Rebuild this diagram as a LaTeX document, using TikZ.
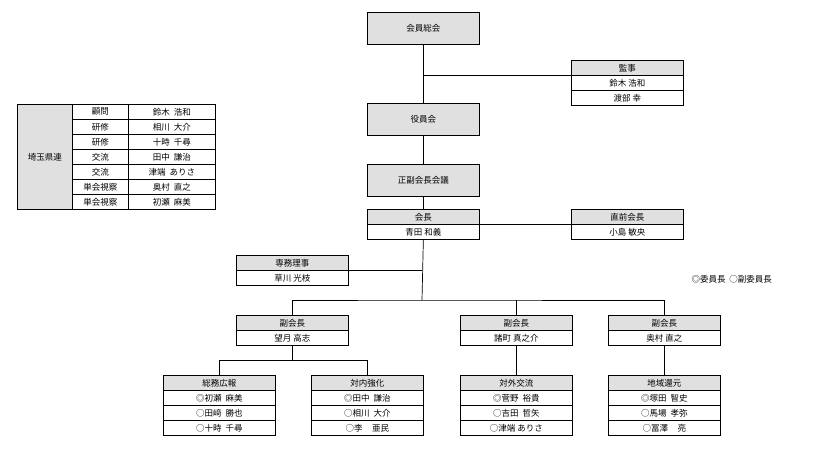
\documentclass[tikz,border=0pt]{standalone}
\usepackage{fontspec}
\setmainfont{Noto Sans CJK JP}
\begin{document}
\begin{tikzpicture}[x=1pt,y=-1pt,
  cell/.style={draw,line width=0.7pt,minimum width=112pt,minimum height=15pt,inner sep=0pt,anchor=north west,font=\fontsize{8.5}{9}\selectfont},
  hd/.style={cell,fill=black!12},
  big/.style={hd,minimum height=32pt},
  tc/.style={cell,minimum width=#1},
  ln/.style={line width=0.7pt}]
\useasboundingbox (0,0) rectangle (835,453);
\node[big] (sokai) at (367,12) {会員総会};
\node[big] (yakuin) at (367,103) {役員会};
\node[big] (seifuku) at (367,164) {正副会長会議};
\node[hd] (kansa-h) at (571,60) {監事};
\node[cell] (kansa-r1) at (571,75) {鈴木\ 浩和};
\node[cell] (kansa-r2) at (571,90) {渡部\ 幸};
\node[hd] (kaicho-h) at (367,209) {会長};
\node[cell] (kaicho-r) at (367,224) {青田\ 和義};
\node[hd] (zenkai-h) at (571,209) {直前会長};
\node[cell] (zenkai-r) at (571,224) {小島\ 敏央};
\node[hd] (senmu-h) at (236,255) {専務理事};
\node[cell] (senmu-r) at (236,270) {草川\ 光枝};
\node[anchor=west,font=\fontsize{8.5}{9}\selectfont] (legend) at (688,279) {◎委員長\ \ ○副委員長};
\node[hd] (fuku1-h) at (236,315) {副会長};
\node[cell] (fuku1-r) at (236,330) {望月\ 高志};
\node[hd] (fuku2-h) at (460,315) {副会長};
\node[cell] (fuku2-r) at (460,330) {諸町\ 真之介};
\node[hd] (fuku3-h) at (608,315) {副会長};
\node[cell] (fuku3-r) at (608,330) {奥村\ 直之};
% committees
\node[hd] (c1-h) at (163,375) {総務広報};
\node[cell] (c1-a) at (163,390) {◎初瀬\ \ 麻美};
\node[cell] (c1-b) at (163,405) {○田﨑\ \ 勝也};
\node[cell] (c1-c) at (163,420) {○十時\ \ 千尋};
\node[hd] (c2-h) at (311,375) {対内強化};
\node[cell] (c2-a) at (311,390) {◎田中\ \ 謙治};
\node[cell] (c2-b) at (311,405) {○相川\ \ 大介};
\node[cell] (c2-c) at (311,420) {○李\ \ \ \ \ 亜民};
\node[hd] (c3-h) at (460,375) {対外交流};
\node[cell] (c3-a) at (460,390) {◎菅野\ \ 裕貴};
\node[cell] (c3-b) at (460,405) {○吉田\ \ 哲矢};
\node[cell] (c3-c) at (460,420) {○津端\ ありさ};
\node[hd] (c4-h) at (608,375) {地域還元};
\node[cell] (c4-a) at (608,390) {◎塚田\ \ 智史};
\node[cell] (c4-b) at (608,405) {○馬場\ \ 孝弥};
\node[cell] (c4-c) at (608,420) {○冨澤\ \ \ \ \ 亮};
% left table
\node[hd,minimum width=55pt,minimum height=105pt] (ken) at (17,104) {埼玉県連};
\foreach \i/\r/\n in {0/顧問/鈴木\ \ 浩和,1/研修/相川\ \ 大介,2/研修/十時\ \ 千尋,3/交流/田中\ \ 謙治,4/交流/津端\ \ ありさ,5/単会視察/奥村\ \ 直之,6/単会視察/初瀬\ \ 麻美}{
  \node[tc=56pt] (kr\i) at (72,104+15*\i) {\r};
  \node[tc=87pt] (kn\i) at (128,104+15*\i) {\n};
}
% connectors
\draw[ln] (sokai.south) -- (yakuin.north);
\draw[ln] (sokai.south |- kansa-h.south west) -- (kansa-h.south west);
\draw[ln] (yakuin.south) -- (seifuku.north);
\draw[ln] (seifuku.south) -- (kaicho-h.north);
\draw[ln] (kaicho-h.south east) -- (zenkai-h.south west);
\coordinate (hub) at (422,300);
\draw[ln] (kaicho-r.south) -- (hub);
\draw[ln] (senmu-h.south east) -- (senmu-h.south east -| hub);
\draw[ln] (fuku1-h.north) |- (hub) -| (fuku3-h.north);
\draw[ln] (fuku2-h.north) -- (fuku2-h.north |- hub);
\draw[ln] (fuku1-r.south) -- ++(0,15) coordinate (h2);
\draw[ln] (c1-h.north) |- (h2) -| (c2-h.north);
\draw[ln] (fuku2-r.south) -- (c3-h.north);
\draw[ln] (fuku3-r.south) -- (c4-h.north);
\end{tikzpicture}
\end{document}
